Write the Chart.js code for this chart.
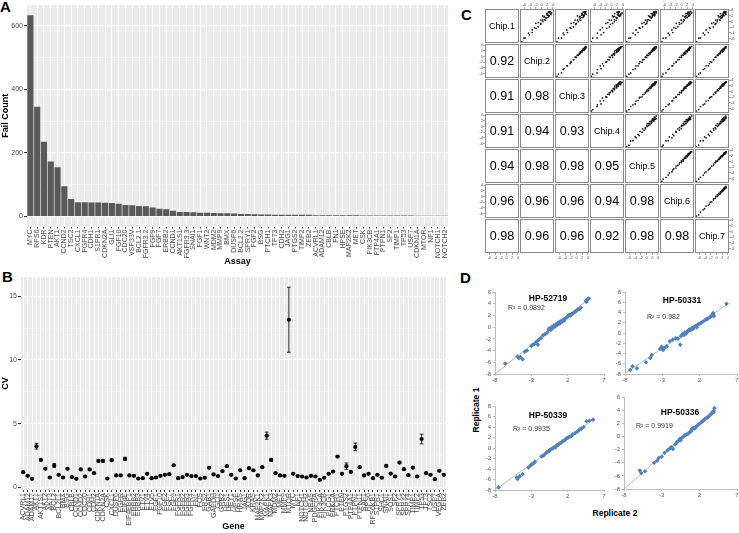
<!DOCTYPE html>
<html>
<head>
<meta charset="utf-8">
<script src="https://cdn.jsdelivr.net/npm/chart.js@4.4.0/dist/chart.umd.min.js"></script>
<style>
  body { margin: 0; width: 739px; height: 533px; background: #fff; position: relative; overflow: hidden;
         font-family: "Liberation Sans", Arial, sans-serif; }
  canvas { position: absolute; }
  .txt { position: absolute; white-space: nowrap; color: #000; }
  .panel { font-weight: bold; font-size: 15px; line-height: 15px; }
  .rtitle { font-weight: bold; font-size: 8.5px; transform: translateX(-50%); }
  .r2 { font-size: 7px; color: #333; }
  .rep { font-weight: bold; font-size: 8.5px; }
</style>
</head>
<body>
<div class="txt panel" style="left:0px;top:-1px">A</div>
<div class="txt panel" style="left:2px;top:269px">B</div>
<div class="txt panel" style="left:461px;top:7px">C</div>
<div class="txt panel" style="left:460px;top:270px">D</div>
<div class="txt rep" style="left:615px;top:508px;transform:translateX(-50%)">Replicate 2</div>
<div class="txt rep" style="left:476px;top:410px;transform:translate(-50%,-50%) rotate(-90deg)">Replicate 1</div>
<script>
Chart.defaults.font.family = '"Liberation Sans", Arial, sans-serif';
Chart.defaults.animation = false;

// ---- Panel A: fail counts per assay
const assays = ["MYC","RPS6","KDR","PTEN","AKT1","CCND2","TSC2","CXCL1","FGFR4","CDH1","S1PR1","CDKN2A","GLI1",
  "FGF10","CDC20","VSP33V","BCL2.1","FGFR3.2","FGF9","FGF7","ERBB2","CCND1","AKT1S1","FGFR3.3","SNAI1","FGF1",
  "WNT2","MDM2","MMP9","BMX","DUSP6","BCL2.2","SPRY1","FGF2","BSG","PTCH1","TP73","CDH2","JAG1","PTGS2","TIMP2",
  "ZEB2","ACVRL1","ADAM12","CBLB","FN1","HPSE","MAP2K2","MET","CSK","PIK3CB","PTP4A1","PTPN1","SP2","TIMP1",
  "TP53","USP7","CDKN1A","MTOR","NF1","NOTCH1","NOTCH2"];
const failCounts = [634,346,235,173,155,95,55,45,45,44,44,43,42,40,36,35,33,32,28,24,23,18,14,14,13,12,12,11,10,10,
  9,8,8,7,6,6,5,5,5,5,5,5,4,4,4,4,4,4,4,3,3,3,3,3,3,3,3,2,2,2,2,2];
const failTicks = [0,100,200,300,400,500,600];

// ---- Panel B: CV per gene
const genes = ["ACVRL1","ADAM12","ADAM17","AKT1","AKT1S1","AKT2","AKT3","BCL2","BCL2L1","BMX","BSG","CBLB","CCND1",
  "CCND2","CDC20","CDH1","CDH2","CDKN1A","CDKN2A","CSK","CXCL1","DUSP6","EGFR","EIF4E","EIF4EBP1","ERBB2","ERBB3",
  "ETV1","ETV4","ETV5","FGF1","FGF10","FGF2","FGF7","FGF9","FGFR1","FGFR2","FGFR3","FGFR4","FN1","FOS","FRS2","GAB1",
  "GAPDH","GLI1","GRB2","HES1","HEY1","HPSE","HRAS","JAG1","KDR","KRAS","MAP2K1","MAP2K2","MAPK1","MAPK3","MDM2",
  "MET","MMP9","MTOR","MYC","NF1","NOTCH1","NOTCH2","NRAS","PDGFRA","PIK3CA","PIK3CB","PLCG1","PRKCA","PTCH1","PTEN",
  "PTGS2","PTP4A1","PTPN1","PTPN11","RAF1","RPS6","RPS6KB1","S1PR1","SHC1","SNAI1","SOS1","SP2","SPRY1","SPRY2",
  "SPRY4","TIMP1","TIMP2","TP53","TP73","TSC2","USP7","VEGFA","ZEB2"];
const cvMeans = [1.20,0.91,0.68,3.23,2.16,1.46,0.78,1.72,0.99,0.78,1.46,0.81,0.68,1.41,0.86,1.41,1.12,2.08,2.08,0.70,
  2.14,0.94,0.94,2.24,0.94,0.91,0.70,0.73,1.07,0.73,0.78,0.91,0.99,1.04,1.74,0.73,0.81,0.99,0.89,0.89,
  0.70,0.76,1.54,1.02,0.89,1.28,1.67,0.99,0.70,1.35,0.73,1.51,1.35,0.94,1.59,4.06,2.16,1.12,0.94,0.91,
  13.15,1.07,0.89,0.86,0.78,0.91,0.86,0.60,0.76,1.07,1.25,2.42,1.07,1.67,1.22,3.18,1.59,0.94,1.07,0.73,
  0.99,0.76,1.69,1.09,0.86,1.95,1.43,0.96,1.56,0.86,3.80,1.12,0.99,0.65,1.30,0.99];
const cvErrors = [0.05,0.05,0.05,0.22,0.06,0.05,0.05,0.15,0.05,0.05,0.05,0.05,0.05,0.05,0.05,0.05,0.05,0.10,0.08,0.05,
  0.08,0.05,0.05,0.12,0.05,0.05,0.05,0.05,0.05,0.05,0.05,0.05,0.05,0.05,0.06,0.05,0.05,0.05,0.05,0.05,
  0.05,0.05,0.06,0.05,0.05,0.05,0.06,0.05,0.05,0.05,0.05,0.05,0.05,0.05,0.06,0.28,0.10,0.05,0.05,0.05,
  2.55,0.05,0.05,0.05,0.05,0.05,0.05,0.05,0.05,0.05,0.05,0.08,0.05,0.25,0.05,0.30,0.05,0.05,0.05,0.05,
  0.05,0.05,0.06,0.05,0.05,0.06,0.05,0.05,0.05,0.05,0.38,0.05,0.05,0.05,0.05,0.05];
const cvTicks = [0,2.5,5,7.5,10,12.5,15];

// ---- Panel C: chip-to-chip values and correlations
const chipNames = ["Chip.1","Chip.2","Chip.3","Chip.4","Chip.5","Chip.6","Chip.7"];
const chip1 = [3.0,3.5,2.5,3.5,2.7,3.2,2.0,3.2,2.2,3.3,1.8,2.4,2.8,1.4,2.2,1.4,2.8,1.2,1.8,0.4,
  1.6,0.6,2.0,-0.1,0.5,-0.7,0.5,-1.0,-0.4,-1.9,-0.7,-2.4,-2.2,-3.9,-3.0,-4.7,-4.1,-5.8,-5.9,-7.2];
const chip2 = [3.5,3.0,3.3,2.9,3.2,2.5,2.8,2.8,2.3,2.4,2.6,2.1,1.8,2.2,2.0,1.6,1.9,1.6,1.0,1.4,
  0.9,1.1,0.4,0.5,0.4,-0.3,-0.2,-0.3,-1.1,-1.2,-2.0,-1.9,-2.5,-3.3,-3.3,-4.3,-4.6,-5.8,-6.2,-7.0];
const chip3 = [3.2,3.3,3.4,2.8,2.9,3.0,2.4,2.7,2.7,2.3,2.6,2.2,1.9,2.3,1.8,1.9,1.8,1.3,1.2,1.5,
  1.0,1.0,0.3,0.6,0.3,-0.1,-0.5,-0.3,-1.0,-1.1,-1.9,-2.0,-2.3,-3.2,-3.4,-4.4,-4.7,-5.3,-6.4,-6.9];
const chip4 = [3.7,2.8,3.2,2.5,3.3,2.6,3.2,2.3,2.7,1.9,2.7,2.1,2.4,1.6,2.4,1.9,1.1,1.8,1.1,1.7,
  0.6,1.0,0.3,1.0,0.0,0.4,-0.8,-0.4,-1.3,-0.8,-2.0,-1.7,-3.2,-2.8,-4.0,-3.7,-5.0,-5.1,-6.6,-7.1];
const chip5 = [3.4,3.4,3.0,3.1,2.7,2.9,2.9,2.5,2.6,2.6,2.1,2.3,2.1,1.9,2.1,1.7,1.7,1.7,1.2,1.2,
  1.2,0.7,0.7,0.2,0.2,0.1,-0.4,-0.4,-0.9,-1.4,-1.6,-2.3,-2.6,-3.0,-3.7,-4.0,-4.8,-5.6,-6.2,-7.0];
const chip6 = [3.6,3.1,3.1,3.2,2.8,2.6,2.8,2.6,2.7,2.2,2.4,2.4,2.0,2.0,1.7,2.0,1.6,1.4,1.5,1.0,
  1.1,0.8,0.5,0.6,0.0,0.0,-0.1,-0.7,-0.8,-1.3,-1.9,-2.0,-2.7,-3.1,-3.4,-4.3,-4.7,-5.5,-6.5,-6.9];
const chip7 = [3.3,3.3,3.3,2.8,3.0,2.8,2.6,2.8,2.5,2.5,2.1,2.3,2.3,1.9,1.9,2.0,1.4,1.5,1.4,1.3,
  0.9,1.0,0.6,0.3,0.3,-0.2,-0.3,-0.5,-1.0,-1.1,-1.7,-2.2,-2.5,-2.9,-3.7,-4.2,-4.7,-5.7,-6.3,-7.1];
const chipCorr = [[], [0.92], [0.91,0.98], [0.91,0.94,0.93], [0.94,0.98,0.98,0.95],
  [0.96,0.96,0.96,0.94,0.98], [0.98,0.96,0.96,0.92,0.98,0.98]];
const chipTicks = [-6,-4,-2,0,2,4];

// ---- Panel D: replicate 2 (x) vs replicate 1 (y)
const hp52719Rep2 = [-6.6,-4.9,-4.7,-4.5,-4.2,-3.9,-3.6,-3.0,-2.8,-2.6,-2.3,-2.1,-2.0,-1.7,-1.4,-1.1,-0.8,-0.6,-0.5,-0.3,-0.2,0.0,0.1,0.3,0.4,0.6,0.7,0.9,1.0,1.2,1.4,1.5,1.7,1.9,2.1,2.2,2.4,2.6,2.8,3.0,3.2,3.4,3.6,3.8,4.5,4.7,4.9,4.6];
const hp52719Rep1 = [-6.2,-5.0,-5.3,-5.1,-5.5,-4.2,-4.0,-3.2,-3.0,-2.9,-2.5,-3.0,-2.2,-1.9,-1.4,-1.2,-0.9,-0.4,-0.2,-0.5,0.0,-0.1,0.3,0.1,0.5,0.4,0.8,0.6,1.0,0.9,1.3,1.1,1.5,1.7,1.9,2.1,2.0,2.3,2.4,2.6,2.8,3.0,3.1,3.3,4.5,4.7,4.9,4.3];
const hp50331Rep2 = [-7.3,-7.0,-6.4,-5.2,-4.6,-4.4,-3.3,-3.1,-2.9,-2.7,-2.4,-2.0,-1.6,-1.2,-0.9,-0.6,-0.5,-0.3,-0.1,0.0,0.2,0.3,0.5,0.6,0.8,1.0,1.1,1.3,1.5,1.6,1.8,2.0,2.2,2.4,2.7,2.9,3.1,3.4,3.6,3.8,3.8,3.9,5.6];
const hp50331Rep1 = [-7.2,-6.5,-6.9,-5.7,-4.9,-4.3,-3.1,-2.7,-3.3,-2.9,-2.6,-1.6,-1.3,-1.0,-1.1,-2.3,-0.6,-0.2,-0.4,0.1,-0.1,0.3,0.4,0.7,0.6,1.0,0.8,1.2,1.4,1.1,1.7,1.8,2.0,2.2,2.5,2.7,2.8,3.1,3.4,3.6,3.9,3.3,5.7];
const hp50339Rep2 = [-7.5,-5.0,-4.9,-4.6,-4.2,-3.4,-3.1,-2.9,-2.7,-2.5,-1.6,-1.3,-1.0,-0.8,-0.6,-0.4,-0.2,0.0,0.2,0.3,0.5,0.7,0.9,1.1,1.3,1.5,1.7,1.9,2.1,2.3,2.5,2.7,3.0,3.3,3.6,3.9,4.2,4.6,5.0,5.5];
const hp50339Rep1 = [-7.5,-5.6,-5.9,-5.4,-5.0,-3.7,-3.3,-3.1,-2.9,-2.6,-1.6,-1.4,-1.0,-0.7,-0.6,-0.3,-0.2,0.0,0.2,0.1,0.5,0.6,0.9,1.0,1.3,1.4,1.6,1.9,2.0,2.2,2.3,2.6,2.8,3.1,3.5,3.7,4.0,5.1,5.2,5.4];
const hp50336Rep2 = [-5.9,-5.7,-5.2,-4.0,-3.6,-3.4,-3.0,-2.6,-2.2,-1.9,-1.7,-1.5,-1.2,-1.0,-0.8,-0.6,-0.5,-0.3,-0.1,0.1,0.3,0.5,0.7,0.9,1.0,1.2,1.4,1.6,1.8,2.0,2.3,2.5,2.7,3.0,3.2,3.5,3.7,3.9,4.0,3.9];
const hp50336Rep1 = [-5.2,-5.6,-5.3,-4.0,-3.7,-3.3,-3.1,-2.5,-2.1,-1.8,-1.6,-1.9,-1.2,-0.9,-0.7,-0.4,-0.6,-0.2,0.0,0.2,0.3,0.4,0.6,0.8,1.1,1.3,1.2,1.5,1.7,1.9,2.2,2.4,2.6,2.8,3.0,3.3,3.6,3.9,4.3,3.7];
const trend52719 = [[-8, -8], [5.2, 5.1]];
const trend50331 = [[-7.8, -7.7], [5.7, 5.6]];
const trend50339 = [[-7.9, -7.9], [5.6, 5.5]];
const trend50336 = [[-8, -8], [4.2, 4.4]];

function place(left, top, w, h) {
  const c = document.createElement("canvas");
  c.width = w; c.height = h;
  c.style.left = left + "px"; c.style.top = top + "px";
  c.style.width = w + "px"; c.style.height = h + "px";
  document.body.appendChild(c);
  return c;
}

// grey ggplot panel
const ggBackground = {
  id: "ggBackground",
  beforeDraw(chart) {
    const { ctx, chartArea: a } = chart;
    ctx.save();
    ctx.fillStyle = "#EBEBEB";
    ctx.fillRect(a.left, a.top, a.width, a.height);
    ctx.restore();
  }
};

const noPlugins = { legend: { display: false }, tooltip: { enabled: false } };
const titleFont = { size: 9, weight: "bold" };

// ggplot-like continuous y axis: minor lines thin, labels only on majors
function ggY(min, max, ticks, major, width, title) {
  const isMajor = (v) => Math.abs(v / major - Math.round(v / major)) < 1e-6;
  return {
    min, max,
    afterBuildTicks: (s) => { s.ticks = ticks.map((value) => ({ value })); },
    ticks: { autoSkip: false, font: { size: 7 }, color: "#4D4D4D", padding: 1,
             callback: (v) => (isMajor(v) ? String(v) : "") },
    grid: { color: "#fff", lineWidth: (c) => (c.tick && isMajor(c.tick.value) ? 1.1 : 0.5),
            tickColor: (c) => (c.tick && isMajor(c.tick.value) ? "#333" : "rgba(0,0,0,0)"), tickLength: 3 },
    border: { display: false },
    title: { display: true, text: title, font: titleFont, color: "#000", padding: 0 },
    afterFit: (s) => { s.width = width; }
  };
}

function ggX(height, title, offset) {
  return {
    offset,
    grid: { color: "#fff", lineWidth: 1, offset: false, tickColor: "#333", tickLength: 2 },
    border: { display: false },
    ticks: { autoSkip: false, minRotation: 90, maxRotation: 90, font: { size: 7 }, color: "#4D4D4D", padding: 1 },
    title: { display: true, text: title, font: titleFont, color: "#000", padding: { top: 0, bottom: 1 } },
    afterFit: (s) => { s.height = height; }
  };
}

// Panel A
new Chart(place(0, 0, 455, 268), {
  type: "bar",
  data: { labels: assays, datasets: [{ data: failCounts, backgroundColor: "#595959", barPercentage: 0.9, categoryPercentage: 1 }] },
  options: {
    responsive: false,
    layout: { padding: { top: 2, right: 7 } },
    plugins: noPlugins,
    scales: { x: ggX(41.5, "Assay", true), y: ggY(-31.7, 665.7, failTicks, 200, 27, "Fail Count") }
  },
  plugins: [ggBackground]
});

// Panel B
const errorBars = {
  id: "errorBars",
  afterDatasetsDraw(chart) {
    const { ctx, scales: { x, y } } = chart;
    ctx.save();
    ctx.strokeStyle = "#111";
    ctx.lineWidth = 0.9;
    cvMeans.forEach((m, i) => {
      const px = x.getPixelForValue(i);
      const top = y.getPixelForValue(m + cvErrors[i]);
      const bot = y.getPixelForValue(m - cvErrors[i]);
      ctx.beginPath();
      ctx.moveTo(px, top); ctx.lineTo(px, bot);
      ctx.moveTo(px - 1.8, top); ctx.lineTo(px + 1.8, top);
      ctx.moveTo(px - 1.8, bot); ctx.lineTo(px + 1.8, bot);
      ctx.stroke();
    });
    ctx.restore();
  }
};

new Chart(place(0, 270, 455, 263), {
  type: "line",
  data: { labels: genes, datasets: [{ data: cvMeans, showLine: false, pointRadius: 2.1, pointBackgroundColor: "#000", pointBorderWidth: 0 }] },
  options: {
    responsive: false,
    layout: { padding: { top: 7, right: 9 } },
    plugins: noPlugins,
    scales: { x: ggX(43, "Gene", true), y: ggY(-0.2, 16.5, cvTicks, 5, 21, "CV") }
  },
  plugins: [ggBackground, errorBars]
});

// Panel C: pairs matrix
const chips = [chip1, chip2, chip3, chip4, chip5, chip6, chip7];
const cellBox = {
  id: "cellBox",
  afterDraw(chart, args, opts) {
    const { ctx, chartArea: a } = chart;
    ctx.save();
    ctx.strokeStyle = "#8A8A8A";
    ctx.lineWidth = 1;
    ctx.strokeRect(a.left + 0.5, a.top + 0.5, a.width - 1, a.height - 1);
    if (opts.text) {
      ctx.fillStyle = "#000";
      ctx.font = opts.font;
      ctx.textAlign = "center";
      ctx.textBaseline = "middle";
      ctx.fillText(opts.text, (a.left + a.right) / 2, (a.top + a.bottom) / 2 + 0.5);
    }
    ctx.restore();
  }
};

const cellX0 = 485, cellY0 = 9, pitch = 35, cellSize = 34, m = 8;
function axisOpts(show, position, isX) {
  return {
    type: "linear", display: show, position,
    min: -7.6, max: 4.4,
    afterBuildTicks: (s) => { s.ticks = chipTicks.map((value) => ({ value })); },
    ticks: { font: { size: 4 }, color: "#555", padding: 0, maxRotation: 0, autoSkip: false },
    grid: { drawOnChartArea: false, tickLength: 2, color: "#777", lineWidth: 0.6 },
    border: { display: false },
    afterFit: (s) => {
      if (!show) return;
      if (isX) s.height = m; else s.width = m;
      s.paddingLeft = s.paddingRight = s.paddingTop = s.paddingBottom = 0;
    }
  };
}

for (let i = 0; i < 7; i++) {
  for (let j = 0; j < 7; j++) {
    const showTop = i === 0 && j % 2 === 1;
    const showBottom = i === 6 && j % 2 === 0;
    const showLeft = j === 0 && i % 2 === 1;
    const showRight = j === 6 && i % 2 === 0;
    let text = null, font = null, points = [];
    if (i === j) { text = chipNames[i]; font = '9px "Liberation Sans", Arial, sans-serif'; }
    else if (j < i) { text = chipCorr[i][j].toFixed(2); font = '12.5px "Liberation Sans", Arial, sans-serif'; }
    else points = chips[j].map((x, k) => ({ x, y: chips[i][k] }));
    new Chart(place(cellX0 + j * pitch - m, cellY0 + i * pitch - m, cellSize + 2 * m, cellSize + 2 * m), {
      type: "scatter",
      data: { datasets: [{ data: points, pointRadius: 0.85, backgroundColor: "#111", borderWidth: 0 }] },
      options: {
        responsive: false,
        layout: { autoPadding: false,
                  padding: { top: showTop ? 0 : m, bottom: showBottom ? 0 : m, left: showLeft ? 0 : m, right: showRight ? 0 : m } },
        plugins: { legend: { display: false }, tooltip: { enabled: false }, cellBox: { text, font } },
        scales: {
          x: axisOpts(showTop || showBottom, showTop ? "top" : "bottom", true),
          y: axisOpts(showLeft || showRight, showRight ? "right" : "left", false)
        }
      },
      plugins: [cellBox]
    });
  }
}

// Panel D: replicate scatter plots
const repPanels = [
  { name: "HP-52719", r2: "0.9892", rep2: hp52719Rep2, rep1: hp52719Rep1, trend: trend52719, yMax: 6,
    area: [495, 292, 604, 374], titleAt: [548, 293], r2At: [508, 304] },
  { name: "HP-50331", r2: "0.982", rep2: hp50331Rep2, rep1: hp50331Rep1, trend: trend50331, yMax: 8,
    area: [625, 292, 737, 374], titleAt: [682, 295], r2At: [647, 313] },
  { name: "HP-50339", r2: "0.9935", rep2: hp50339Rep2, rep1: hp50339Rep1, trend: trend50339, yMax: 8,
    area: [495, 406, 604, 490], titleAt: [548, 410], r2At: [513, 425] },
  { name: "HP-50336", r2: "0.9919", rep2: hp50336Rep2, rep1: hp50336Rep1, trend: trend50336, yMax: 6,
    area: [624, 397, 737, 489], titleAt: [680, 407], r2At: [636, 422] }
];

repPanels.forEach((p) => {
  const [l, t, r, b] = p.area;
  const padL = 22, padT = 10, padR = 6, padB = 13;
  new Chart(place(l - padL, t - padT, r - l + padL + padR, b - t + padT + padB), {
    type: "scatter",
    data: {
      datasets: [
        { type: "line", data: p.trend.map(([x, y]) => ({ x, y })), borderColor: "#A6A6A6", borderWidth: 0.8, pointRadius: 0, order: 1 },
        { data: p.rep2.map((x, k) => ({ x, y: p.rep1[k] })), pointStyle: "rectRot", pointRadius: 2.3,
          backgroundColor: "#4F81BD", borderWidth: 0, order: 0 }
      ]
    },
    options: {
      responsive: false,
      layout: { padding: { top: padT, right: padR } },
      plugins: noPlugins,
      scales: {
        x: {
          type: "linear", min: -8, max: 7,
          ticks: { stepSize: 5, font: { size: 6 }, color: "#595959", padding: 1 },
          grid: { drawOnChartArea: false, tickLength: 2, color: "#BFBFBF" },
          border: { color: "#BFBFBF" },
          afterFit: (s) => { s.height = padB; }
        },
        y: {
          min: -8, max: p.yMax,
          ticks: { stepSize: 2, font: { size: 6 }, color: "#595959", padding: 2 },
          grid: { drawOnChartArea: false, tickLength: 2, color: "#BFBFBF" },
          border: { color: "#BFBFBF" },
          afterFit: (s) => { s.width = padL; }
        }
      }
    }
  });
  const title = document.createElement("div");
  title.className = "txt rtitle";
  title.style.left = p.titleAt[0] + "px";
  title.style.top = p.titleAt[1] + "px";
  title.textContent = p.name;
  document.body.appendChild(title);
  const r2 = document.createElement("div");
  r2.className = "txt r2";
  r2.style.left = p.r2At[0] + "px";
  r2.style.top = p.r2At[1] + "px";
  r2.textContent = "R² = " + p.r2;
  document.body.appendChild(r2);
});
</script>
</body>
</html>
